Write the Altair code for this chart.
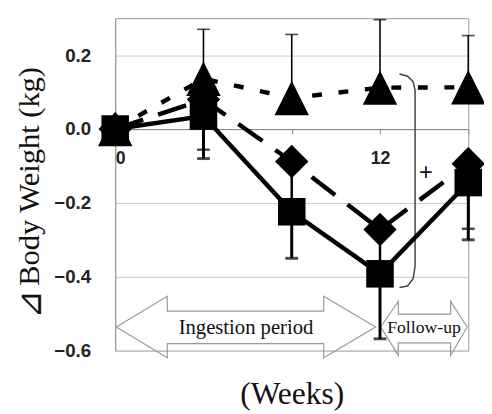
import altair as alt
import pandas as pd

# ---- data ----
weeks = [0, 4, 8, 12, 16]
sq_mean = [0.0, 0.035, -0.224, -0.392, -0.145]
sq_err = [0.0, 0.115, 0.126, 0.176, 0.155]
dm_mean = [0.0, 0.080, -0.088, -0.272, -0.094]
dm_err = [0.0, 0.136, 0.120, 0.100, 0.176]
tr_mean = [0.0, 0.136, 0.084, 0.112, 0.113]
tr_err = [0.0, 0.134, 0.172, 0.184, 0.140]

x_ticks = [0, 4, 8, 12, 16]
y_ticks = [-0.6, -0.4, -0.2, 0.0, 0.2]

# annotation shapes (in data units)
ing_x = [0.05, 2.36, 2.36, 9.45, 9.45, 11.8, 9.45, 9.45, 2.36, 2.36, 0.05]
ing_y = [-0.536, -0.453, -0.493, -0.493, -0.453, -0.536, -0.619, -0.581, -0.581, -0.619, -0.536]
fol_x = [12.03, 12.83, 12.83, 15.2, 15.2, 15.95, 15.2, 15.2, 12.83, 12.83, 12.03]
fol_y = [-0.536, -0.467, -0.501, -0.501, -0.467, -0.536, -0.613, -0.579, -0.579, -0.613, -0.536]
br_x = [12.88, 13.25, 13.5, 13.59, 13.59, 13.5, 13.25, 12.88]
br_y = [0.149, 0.143, 0.128, 0.105, -0.372, -0.405, -0.425, -0.429]

W, H = 359, 338
xscale = alt.Scale(domain=[0, 16], nice=False, zero=False)
yscale = alt.Scale(domain=[-0.6, 0.3], nice=False, zero=False)
zero_px = H * (0.3 - 0.0) / 0.9

xaxis = alt.Axis(values=x_ticks, title=None, grid=False, offset=-(H - zero_px),
                 domainColor="#888", domainWidth=1, tickColor="#888", tickSize=5,
                 labelExpr="datum.value == 0 || datum.value == 12 ? datum.label : ''",
                 labelFont="Liberation Sans", labelFontWeight="bold", labelFontSize=18,
                 labelColor="#222", labelPadding=16)
yaxis = alt.Axis(values=y_ticks, format=".1f", title=None, grid=True, gridColor="#c8c8c8",
                 domainColor="#999", ticks=False, labelPadding=25,
                 labelFont="Liberation Sans", labelFontWeight="bold", labelFontSize=19,
                 labelColor="#222")

X = alt.X("week:Q", scale=xscale, axis=xaxis)


def series(mean, err, sign, shape, size, dash, errw):
    df = pd.DataFrame({"week": weeks, "mean": mean,
                       "end": [m + sign * e for m, e in zip(mean, err)]})
    dfe = df[df.week > 0]
    Y = alt.Y("mean:Q", scale=yscale, axis=yaxis)
    lkw = dict(color="black", strokeWidth=4.5)
    if dash:
        lkw["strokeDash"] = dash
    line = alt.Chart(df).mark_line(**lkw).encode(X, Y)
    rule = alt.Chart(dfe).mark_rule(color="black", strokeWidth=errw).encode(
        X, Y, y2="end:Q")
    cap = alt.Chart(dfe).mark_tick(orient="horizontal", color="black", size=13,
                                   thickness=errw).encode(
        X, alt.Y("end:Q", scale=yscale, axis=yaxis))
    pts = alt.Chart(df).mark_point(shape=shape, filled=True, size=size,
                                   color="black", opacity=1).encode(X, Y)
    return line, rule, cap, pts


tri = series(tr_mean, tr_err, 1, "M0,-1L1,1L-1,1Z", 1225, [10, 17], 1.6)
dia = series(dm_mean, dm_err, -1, "diamond", 1150, [30, 16], 2.5)
sqr = series(sq_mean, sq_err, -1, "square", 784, None, 3)


def poly(xs, ys, width=1.2, color="#999"):
    df = pd.DataFrame({"week": xs, "v": ys, "i": list(range(len(xs)))})
    return alt.Chart(df).mark_line(color=color, strokeWidth=width).encode(
        X, alt.Y("v:Q", scale=yscale, axis=yaxis), order="i:Q")


def label(txt, px, py, size, font="Liberation Serif", **kw):
    df = pd.DataFrame({"t": [txt]})
    kw.setdefault("align", "center")
    return alt.Chart(df).mark_text(font=font, fontSize=size,
                                   color="#111", baseline="middle",
                                   **kw).encode(
        x=alt.value(px), y=alt.value(py), text="t:N")


layers = [
    poly(ing_x, ing_y), poly(fol_x, fol_y), poly(br_x, br_y, 1.5, "#444"),
    tri[0], dia[0], sqr[0],
    tri[1], dia[1], sqr[1],
    tri[2], dia[2], sqr[2],
    tri[3], dia[3], sqr[3],
    label("Ingestion period", 133, 315, 21),
    label("Follow-up", 314, 315, 18),
    label("+", 316, 158, 24, font="Liberation Sans"),
    label("(Weeks)", 180, 382, 32),
    label("Body Weight (kg)", -86, 272, 31, angle=270, align="left"),
    label("⊿", -86, 291, 35, font="DejaVu Sans", angle=270),
]

chart = alt.layer(*layers).properties(
    width=W, height=H,
    padding={"left": 109, "top": 7, "right": 16, "bottom": 58},
    autosize=alt.AutoSizeParams(type="none"),
).configure_view(stroke="#999", strokeWidth=1)

chart.save("out.html", embed_options={"renderer": "svg", "actions": False})
